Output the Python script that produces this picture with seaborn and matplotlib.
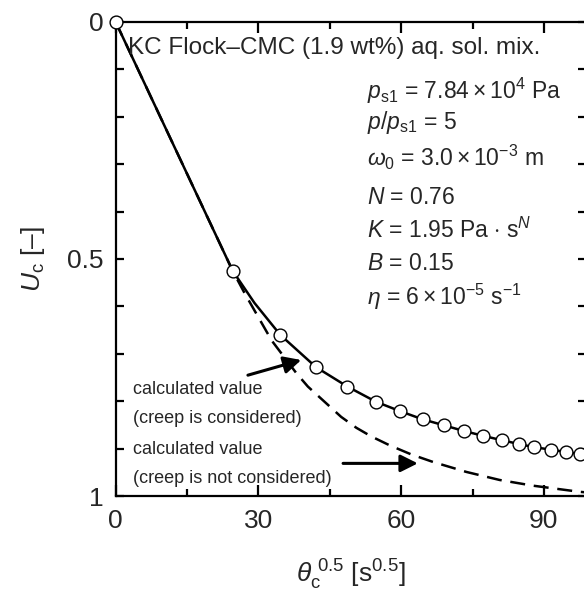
import matplotlib
matplotlib.use('Agg')
import matplotlib.pyplot as plt
import pandas as pd
import seaborn as sns
from matplotlib.ticker import MultipleLocator

# ---- data ----
# experimental values (open circles)
exp_x = [0, 24.6, 34.6, 42.1, 48.7, 54.7, 59.8, 64.5, 69.1, 73.3, 77.3, 81.1,
         84.7, 88.0, 91.5, 94.6, 97.5]
exp_u = [0, 0.525, 0.660, 0.728, 0.769, 0.801, 0.821, 0.838, 0.851, 0.863,
         0.873, 0.882, 0.890, 0.897, 0.902, 0.907, 0.911]

# calculated value, creep considered (solid line)
creep_x = [0, 24.6, 29.2, 34.6, 42.1, 48.7, 54.7, 59.8, 64.5, 69.1, 73.3,
           77.3, 81.1, 84.7, 88.0, 91.5, 94.6, 97.5, 100]
creep_u = [0, 0.525, 0.593, 0.660, 0.728, 0.769, 0.801, 0.821, 0.838, 0.851,
           0.863, 0.873, 0.882, 0.890, 0.897, 0.902, 0.907, 0.911, 0.914]

# calculated value, creep not considered (dashed line)
nocreep_x = [0, 24.6, 27.1, 32.8, 38.0, 40.4, 47.4, 50.6, 53.7, 57.6, 62.1,
             66.7, 73.7, 80.7, 87.7, 97.5, 100]
nocreep_u = [0, 0.525, 0.572, 0.672, 0.741, 0.769, 0.833, 0.856, 0.874, 0.893,
             0.912, 0.928, 0.949, 0.966, 0.978, 0.991, 0.993]

x_ticks = [0, 30, 60, 90]
y_ticks = [0, 0.5, 1]
y_tick_labels = ['0', '0.5', '1']

title_text = 'KC Flock\u2013CMC (1.9 wt%) aq. sol. mix.'
param_lines = [
    r'$p_{\rm s1}$ = $7.84\times10^{4}$ Pa',
    r'$p/p_{\rm s1}$ = 5',
    r'$\omega_{0}$ = $3.0\times10^{-3}$ m',
    r'$N$ = 0.76',
    r'$K$ = 1.95 Pa $\cdot$ s$^{N}$',
    r'$B$ = 0.15',
    r'$\eta$ = $6\times10^{-5}$ s$^{-1}$',
]
label_creep = 'calculated value\n(creep is considered)'
label_nocreep = 'calculated value\n(creep is not considered)'

# ---- style ----
sns.set_style('ticks')
plt.rcParams['font.family'] = ['Liberation Sans', 'DejaVu Sans']
plt.rcParams['mathtext.fontset'] = 'custom'
plt.rcParams['mathtext.rm'] = 'Liberation Sans'
plt.rcParams['mathtext.it'] = 'Liberation Sans:italic'
plt.rcParams['mathtext.bf'] = 'Liberation Sans:bold'

W, H = 584, 592
fig = plt.figure(figsize=(W / 100, H / 100), dpi=100)
ax = fig.add_axes([0.198, 0.162, 0.805, 0.801])

df_creep = pd.DataFrame({'x': creep_x, 'u': creep_u})
df_nocreep = pd.DataFrame({'x': nocreep_x, 'u': nocreep_u})
df_exp = pd.DataFrame({'x': exp_x, 'u': exp_u})

sns.lineplot(data=df_nocreep, x='x', y='u', ax=ax, color='black', lw=1.8,
             sort=False, estimator=None, zorder=2)
ax.lines[-1].set_dashes([6, 3.5])
sns.lineplot(data=df_creep, x='x', y='u', ax=ax, color='black', lw=1.8,
             sort=False, estimator=None, zorder=3)
sns.scatterplot(data=df_exp, x='x', y='u', ax=ax, marker='o', s=85,
                facecolor='white', edgecolor='black', linewidth=1.0,
                zorder=5, clip_on=False)

ax.set_xlim(0, 98.8)
ax.set_ylim(1, 0)

ax.set_xticks(x_ticks)
ax.xaxis.set_minor_locator(MultipleLocator(15))
ax.set_yticks(y_ticks)
ax.set_yticklabels(y_tick_labels)
ax.yaxis.set_minor_locator(MultipleLocator(0.1))

for s in ax.spines.values():
    s.set_linewidth(1.6)
    s.set_color('black')

ax.tick_params(axis='both', which='both', direction='in', top=True, right=True,
               width=1.6, color='black')
ax.tick_params(axis='x', which='major', length=8, pad=9, labelsize=19)
ax.tick_params(axis='x', which='minor', length=5)
ax.tick_params(axis='y', which='both', length=6)
ax.tick_params(axis='y', which='major', pad=9, labelsize=19)

ax.set_xlabel(r'$\theta_{\rm c}^{\ 0.5}$ [s$^{0.5}$]', fontsize=19, labelpad=18)
ax.set_ylabel(r'$U_{\rm c}$ [' + '\u2013]', fontsize=19, labelpad=14)

ax.text(0.027, 0.946, title_text, transform=ax.transAxes, fontsize=17.5,
        ha='left', va='center')

param_y = [91, 123, 157, 197, 230, 264, 297]
for txt, py in zip(param_lines, param_y):
    ax.text(367 / W, 1 - py / H, txt, transform=fig.transFigure, fontsize=16.5,
            ha='left', va='center')

ax.text(3.6, 0.806, label_creep, fontsize=13, ha='left',
        va='center', linespacing=1.95)
ax.text(3.6, 0.932, label_nocreep, fontsize=13, ha='left', va='center',
        linespacing=1.95)

ax.annotate('', xy=(39.0, 0.713), xytext=(27.8, 0.745),
            arrowprops=dict(arrowstyle='-|>', color='black', lw=2.2,
                            mutation_scale=26, shrinkA=0, shrinkB=0))
ax.annotate('', xy=(63.5, 0.931), xytext=(47.8, 0.931),
            arrowprops=dict(arrowstyle='-|>', color='black', lw=2.2,
                            mutation_scale=26, shrinkA=0, shrinkB=0))

fig.savefig('out.png', dpi=100)
